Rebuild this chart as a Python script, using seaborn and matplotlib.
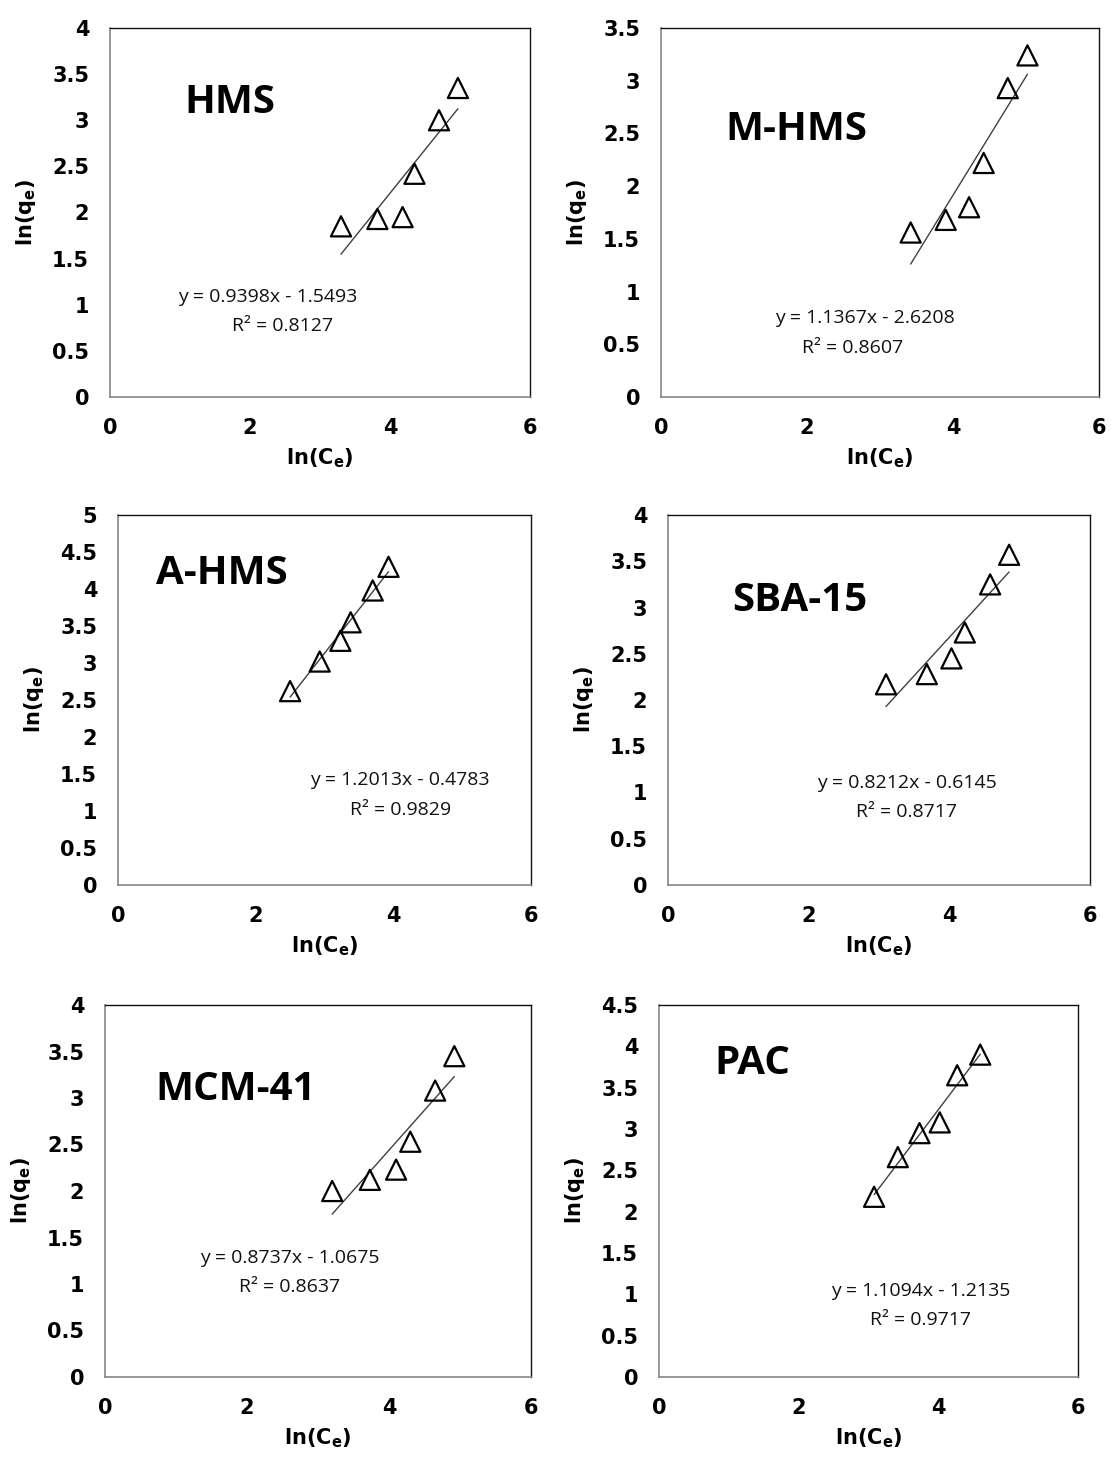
import numpy as np
import pandas as pd
import seaborn as sns
from matplotlib import pyplot as plt

# Freundlich isotherm data, ln(Ce) vs ln(qe)
names = ["HMS", "M-HMS", "A-HMS", "SBA-15", "MCM-41", "PAC"]

x_hms = [3.30, 3.82, 4.18, 4.35, 4.70, 4.97]
y_hms = [1.85, 1.93, 1.95, 2.42, 3.00, 3.35]

x_mhms = [3.42, 3.90, 4.22, 4.42, 4.75, 5.02]
y_mhms = [1.56, 1.68, 1.80, 2.22, 2.93, 3.24]

x_ahms = [2.50, 2.93, 3.23, 3.38, 3.70, 3.93]
y_ahms = [2.62, 3.02, 3.30, 3.55, 3.98, 4.30]

x_sba = [3.10, 3.68, 4.03, 4.22, 4.58, 4.85]
y_sba = [2.17, 2.28, 2.45, 2.73, 3.25, 3.57]

x_mcm = [3.20, 3.73, 4.10, 4.30, 4.65, 4.92]
y_mcm = [2.00, 2.12, 2.23, 2.53, 3.08, 3.45]

x_pac = [3.08, 3.42, 3.73, 4.02, 4.27, 4.60]
y_pac = [2.18, 2.66, 2.95, 3.08, 3.65, 3.90]

y_max = [4, 3.5, 5, 4, 4, 4.5]

equations = ["y = 0.9398x - 1.5493", "y = 1.1367x - 2.6208", "y = 1.2013x - 0.4783",
             "y = 0.8212x - 0.6145", "y = 0.8737x - 1.0675", "y = 1.1094x - 1.2135"]
r_squared = ["R² = 0.8127", "R² = 0.8607", "R² = 0.9829",
             "R² = 0.8717", "R² = 0.8637", "R² = 0.9717"]

xs = [x_hms, x_mhms, x_ahms, x_sba, x_mcm, x_pac]
ys = [y_hms, y_mhms, y_ahms, y_sba, y_mcm, y_pac]

sns.set_style("white")
plt.rcParams["font.family"] = ["DejaVu Sans"]
plt.rcParams["mathtext.fontset"] = "dejavusans"
plt.rcParams["mathtext.default"] = "bf"
plt.rcParams["text.color"] = "black"
plt.rcParams["axes.labelcolor"] = "black"

W, H = 1111, 1459
fig = plt.figure(figsize=(W / 100, H / 100), dpi=100)

# plot area boxes in pixels: left, top, right, bottom
boxes = [(110, 28, 530, 397), (661, 28, 1099, 397),
         (118, 515, 531, 885), (668, 515, 1090, 885),
         (105, 1005, 531, 1377), (659, 1005, 1078, 1377)]
# label centre, equation line centres (axes fractions)
label_pos = [(0.286, 0.797), (0.31, 0.724), (0.252, 0.843),
             (0.313, 0.77), (0.307, 0.772), (0.222, 0.844)]
eq_pos = [(0.376, 0.271, 0.41, 0.192), (0.466, 0.214, 0.438, 0.133),
          (0.683, 0.284, 0.683, 0.203), (0.566, 0.276, 0.566, 0.197),
          (0.434, 0.32, 0.434, 0.242), (0.625, 0.231, 0.625, 0.153)]

text_font = ["Open Sans", "DejaVu Sans"]

for i, name in enumerate(names):
    l, t, r, b = boxes[i]
    ax = fig.add_axes([l / W, 1 - b / H, (r - l) / W, (b - t) / H])
    df = pd.DataFrame({"x": xs[i], "y": ys[i]})

    sns.regplot(data=df, x="x", y="y", ax=ax, scatter=False, ci=None,
                line_kws=dict(color="#404040", lw=1))
    sns.scatterplot(data=df, x="x", y="y", ax=ax, marker="^", s=210,
                    facecolor="none", edgecolor="black", linewidth=1.6, zorder=3)

    ax.set_xlim(0, 6)
    ax.set_ylim(0, y_max[i])
    yt = np.arange(0, y_max[i] + 0.01, 0.5)
    ax.set_xticks([0, 2, 4, 6])
    ax.set_yticks(yt)
    ax.set_yticklabels([f"{v:g}" for v in yt])
    ax.tick_params(axis="both", direction="out", length=5, width=1, color="#868686",
                   labelsize=15, pad=10, labelcolor="black")
    for lab in ax.get_xticklabels() + ax.get_yticklabels():
        lab.set_fontweight("bold")
    for side in ["left", "bottom"]:
        ax.spines[side].set_color("#868686")
        ax.spines[side].set_linewidth(1.2)
    for side in ["top", "right"]:
        ax.spines[side].set_color("#111111")
        ax.spines[side].set_linewidth(1)

    ax.set_xlabel("ln(C$_{e}$)", fontsize=15, fontweight="bold", labelpad=6)
    ax.set_ylabel("ln(q$_{e}$)", fontsize=15, fontweight="bold", labelpad=10)

    ax.text(*label_pos[i], name, transform=ax.transAxes, ha="center", va="center",
            fontsize=29, fontweight="bold", family=text_font, color="black")
    ex1, ey1, ex2, ey2 = eq_pos[i]
    ax.text(ex1, ey1, equations[i], transform=ax.transAxes, ha="center", va="center",
            fontsize=14, family=text_font, color="#111111")
    ax.text(ex2, ey2, r_squared[i], transform=ax.transAxes, ha="center", va="center",
            fontsize=14, family=text_font, color="#111111")

fig.savefig("out.png", dpi=100)
